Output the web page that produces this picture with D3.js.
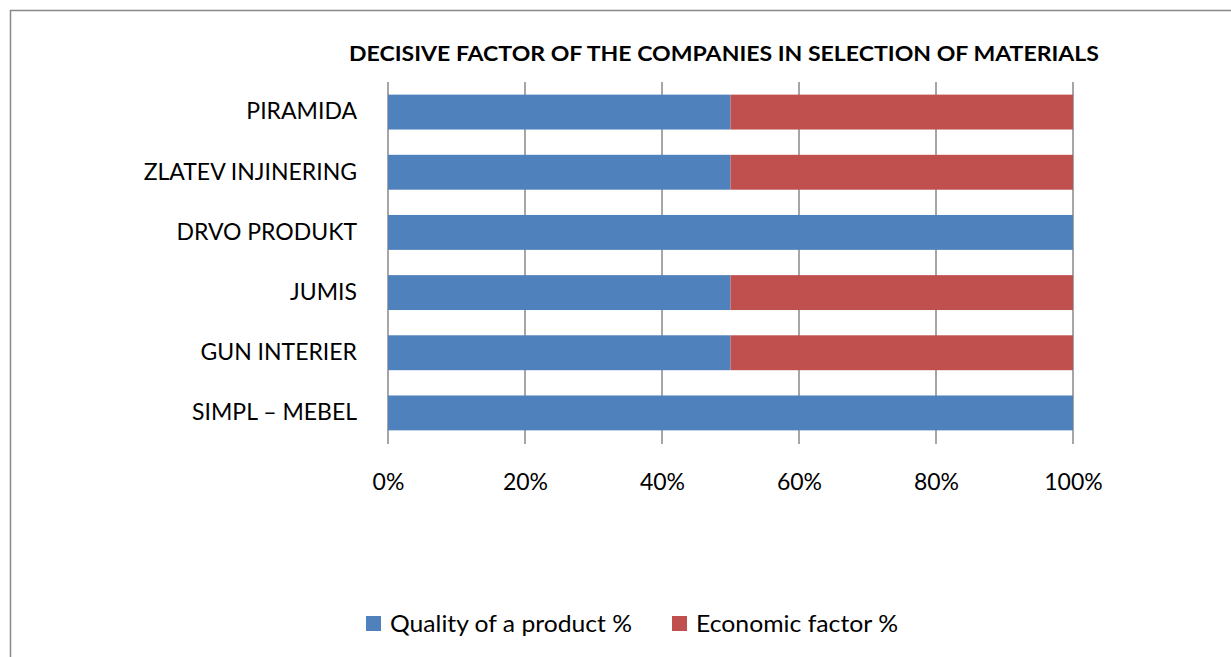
<html>
<head>
<script src="https://cdn.jsdelivr.net/npm/d3@7"></script>
<style>
body { margin: 0; background: #fff; }
text { font-family: Lato, "Open Sans", sans-serif; fill: #000; }
</style>
</head>
<body>
<svg width="1231" height="657"></svg>
<script>
// data
var companies = ['PIRAMIDA', 'ZLATEV INJINERING', 'DRVO PRODUKT', 'JUMIS', 'GUN INTERIER', 'SIMPL \u2013 MEBEL']
var quality = [50, 50, 100, 50, 50, 100]
var economic = [50, 50, 0, 50, 50, 0]
var seriesNames = ['Quality of a product %', 'Economic factor %']
var tickValues = [0, 20, 40, 60, 80, 100]

var colors = ['#4F81BD', '#C0504D']

var svg = d3.select('svg')

// outer frame
svg.append('rect')
    .attr('x', 10.5).attr('y', 10.5)
    .attr('width', 1240).attr('height', 680)
    .attr('fill', 'none').attr('stroke', '#888').attr('stroke-width', 1.5)

svg.append('text')
    .attr('x', 724).attr('y', 61)
    .attr('text-anchor', 'middle')
    .attr('font-size', 21).attr('font-weight', 'bold')
    .attr('textLength', 750).attr('lengthAdjust', 'spacingAndGlyphs')
    .text('DECISIVE FACTOR OF THE COMPANIES IN SELECTION OF MATERIALS')

var x = d3.scaleLinear().domain([0, 100]).range([388, 1073])
var y = d3.scaleBand().domain(companies).range([82, 443]).paddingInner(0.42).paddingOuter(0.21)

// gridlines
svg.selectAll('.grid')
    .data(tickValues)
    .enter()
    .append('line')
    .attr('x1', function(d){ return x(d) })
    .attr('x2', function(d){ return x(d) })
    .attr('y1', 82).attr('y2', 444)
    .attr('stroke', '#888').attr('stroke-width', 1.5)

var rows = companies.map(function(c, i){
    return {name: c, values: [quality[i], economic[i]]}
})

// stacked bars
rows.forEach(function(r){
    var start = 0
    r.values.forEach(function(v, j){
        if (v > 0) {
            svg.append('rect')
                .attr('x', x(start))
                .attr('y', y(r.name))
                .attr('width', x(start + v) - x(start))
                .attr('height', y.bandwidth())
                .attr('fill', colors[j])
        }
        start += v
    })
})

// axis labels
var yAxis = d3.axisLeft(y).tickSize(0).tickPadding(31)
var gy = svg.append('g').attr('transform', 'translate(388,0)').call(yAxis)
gy.select('.domain').remove()
gy.selectAll('text').attr('font-size', 23).attr('font-family', 'Lato, sans-serif').attr('fill', '#000')

var xAxis = d3.axisBottom(x).tickValues(tickValues).tickSize(0).tickPadding(30)
    .tickFormat(function(d){ return d + '%' })
var gx = svg.append('g').attr('transform', 'translate(0,444)').call(xAxis)
gx.select('.domain').remove()
gx.selectAll('text').attr('font-size', 23).attr('font-family', 'Lato, sans-serif').attr('fill', '#000')

// legend
var legendX = [366, 672]
var legendLen = [242, 202]
seriesNames.forEach(function(n, i){
    svg.append('rect')
        .attr('x', legendX[i]).attr('y', 616)
        .attr('width', 15).attr('height', 15)
        .attr('fill', colors[i])
    svg.append('text')
        .attr('x', legendX[i] + 24).attr('y', 632)
        .attr('font-size', 23)
        .attr('textLength', legendLen[i]).attr('lengthAdjust', 'spacingAndGlyphs')
        .text(n)
})
</script>
</body>
</html>
